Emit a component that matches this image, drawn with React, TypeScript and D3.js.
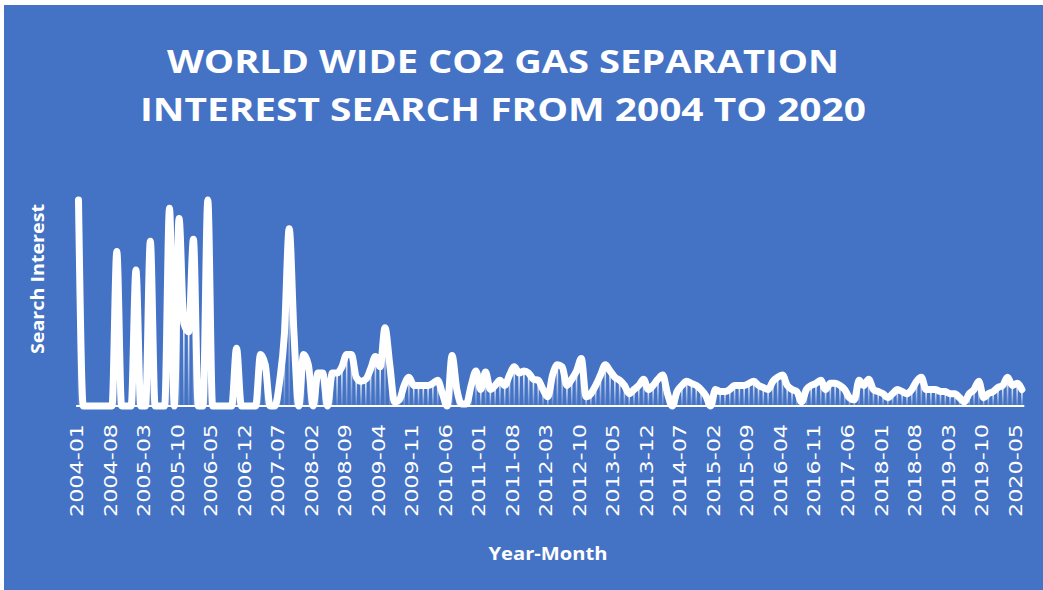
import React from "react";
import * as d3 from "d3";

const titleLines = ["WORLD WIDE CO2 GAS SEPARATION", "INTEREST SEARCH FROM 2004 TO 2020"];
const yAxisTitle = "Search Interest";
const xAxisTitle = "Year-Month";

const startYear = 2004;
const searchInterest = [
  100, 0, 0, 0, 0, 0, 0, 0, 75, 0, 0, 0, 66, 0, 0, 80, 0, 0, 0, 96,
  0, 91, 40, 36, 81, 0, 0, 100, 0, 0, 0, 0, 0, 28, 0, 0, 0, 0, 25, 20,
  0, 0, 12, 35, 86, 35, 0, 25, 20, 0, 16, 16, 0, 16, 16, 19, 25, 25, 14, 12,
  13, 18, 24, 19, 38, 20, 2, 3, 10, 14, 10, 10, 10, 10, 11, 12.5, 6, 0, 24.5, 8,
  1, 1, 10, 17, 8, 16.5, 8, 10, 12.5, 10, 15, 19, 16, 17, 16, 13, 12.5, 8, 4.5, 15,
  20, 19, 10, 13, 17, 23, 4.5, 6, 10, 15, 20, 17, 14, 12.5, 10, 6, 8, 10, 13, 8,
  10, 13, 15, 6, 0, 7, 10, 12, 11, 10, 8, 5, 0, 8, 7, 7, 8, 10, 10, 10,
  11, 12, 10, 9, 8, 12, 14, 15, 10, 8, 7, 2, 8, 10, 11, 12.5, 8, 11, 11, 10,
  8, 4, 3, 12.5, 10, 13, 8, 7, 6, 4, 6, 8, 7, 6, 8, 12, 14, 8, 8, 8,
  7, 7, 6, 6, 4, 2, 6, 8, 12, 4, 6, 7, 9, 10, 14, 10, 11, 8,
];

const tickLabels = [
  "2004-01", "2004-08", "2005-03", "2005-10", "2006-05", "2006-12", "2007-07",
  "2008-02", "2008-09", "2009-04", "2009-11", "2010-06", "2011-01", "2011-08",
  "2012-03", "2012-10", "2013-05", "2013-12", "2014-07", "2015-02", "2015-09",
  "2016-04", "2016-11", "2017-06", "2018-01", "2018-08", "2019-03", "2019-10",
  "2020-05",
];

const categories: string[] = searchInterest.map((_, i) => {
  const y = startYear + Math.floor(i / 12);
  const m = (i % 12) + 1;
  return `${y}-${m < 10 ? "0" + m : m}`;
});

export default function App() {
  const W = 1043;
  const H = 590;
  const plotLeft = 76.1;
  const plotRight = 1024.3;
  const baseY = 406;
  const topY = 200;

  const x = d3.scaleBand<string>().domain(categories).range([plotLeft, plotRight]).padding(0);
  const cx = (c: string) => (x(c) as number) + x.bandwidth() / 2;
  const y = d3.scaleLinear().domain([0, 100]).range([baseY, topY]);

  const line = d3
    .line<number>()
    .x((_, i) => cx(categories[i]))
    .y((d) => y(d))
    .curve(d3.curveMonotoneX);

  const font = "'Open Sans', 'DejaVu Sans', sans-serif";

  return (
    <svg width={W} height={H} style={{ position: "absolute", left: 0, top: 0, background: "#fff" }}>
      <defs>
        <linearGradient id="dropGrad" x1="0" y1="0" x2="0" y2="1">
          <stop offset="0" stopColor="#ffffff" stopOpacity={1} />
          <stop offset="1" stopColor="#ffffff" stopOpacity={0.12} />
        </linearGradient>
      </defs>
      <rect x={4} y={5} width={W - 4} height={H - 5} fill="#4472C4" />

      {titleLines.map((t, k) => (
        <text
          key={k}
          x={503}
          y={k === 0 ? 73 : 121}
          textAnchor="middle"
          fill="#fff"
          fontFamily={font}
          fontWeight={700}
          fontSize={33}
          textLength={k === 0 ? 672 : 726}
          lengthAdjust="spacingAndGlyphs"
        >
          {t}
        </text>
      ))}

      <text
        transform="translate(44,279) rotate(-90)"
        textAnchor="middle"
        fill="#fff"
        fontFamily={font}
        fontWeight={700}
        fontSize={18}
        textLength={150}
        lengthAdjust="spacingAndGlyphs"
      >
        {yAxisTitle}
      </text>

      <text
        x={548}
        y={560}
        textAnchor="middle"
        fill="#fff"
        fontFamily={font}
        fontWeight={700}
        fontSize={18}
        textLength={119}
        lengthAdjust="spacingAndGlyphs"
      >
        {xAxisTitle}
      </text>

      {searchInterest.map((v, i) =>
        v > 0 ? (
          <rect
            key={i}
            x={cx(categories[i]) - 0.8}
            y={y(v)}
            width={1.6}
            height={baseY - y(v)}
            fill="url(#dropGrad)"
          />
        ) : null
      )}

      <line x1={plotLeft} x2={plotRight} y1={baseY} y2={baseY} stroke="#fff" strokeWidth={2} />

      <path
        d={line(searchInterest) || ""}
        fill="none"
        stroke="#fff"
        strokeWidth={7}
        strokeLinejoin="round"
        strokeLinecap="round"
      />

      {tickLabels.map((lab) => {
        const tx = cx(lab) + 4.5;
        const ty = 424;
        return (
          <text
            key={lab}
            x={tx}
            y={ty}
            transform={`rotate(-90, ${tx}, ${ty})`}
            textAnchor="end"
            fill="#fff"
            fontFamily="'DejaVu Sans', sans-serif"
            fontSize={17}
            textLength={93}
            lengthAdjust="spacingAndGlyphs"
          >
            {lab}
          </text>
        );
      })}
    </svg>
  );
}
